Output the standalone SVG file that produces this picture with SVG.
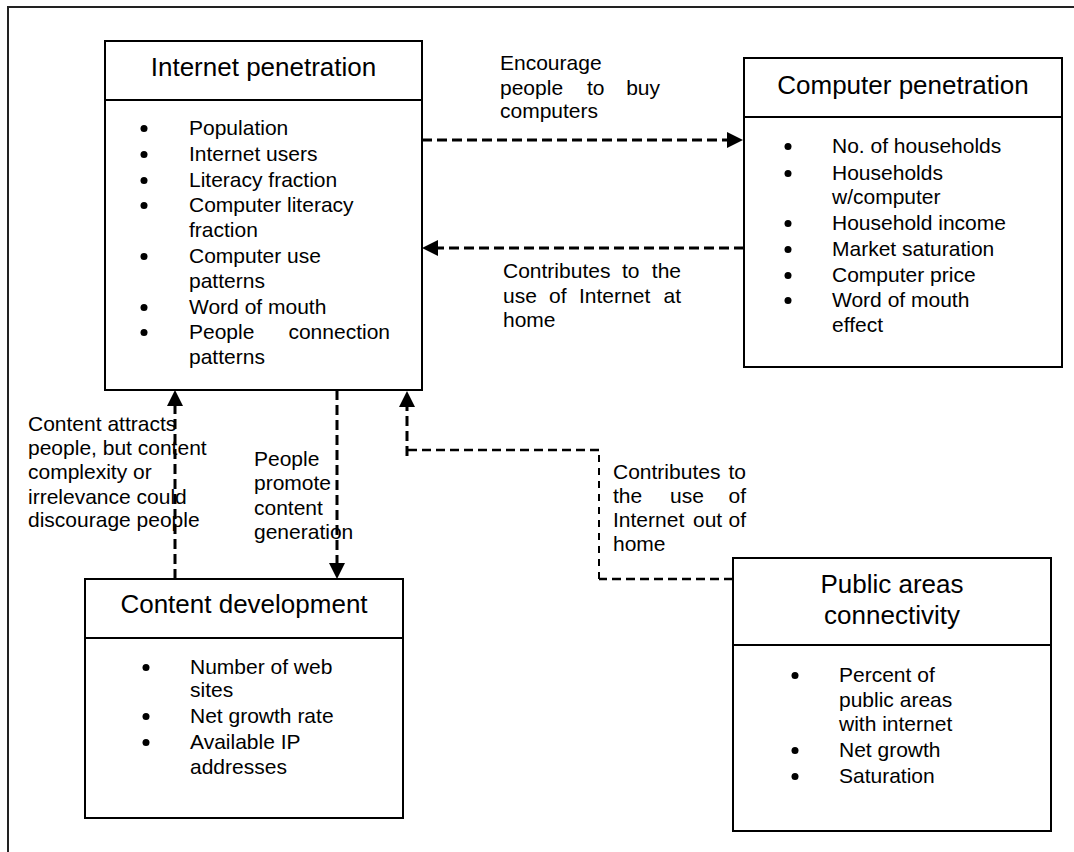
<svg xmlns="http://www.w3.org/2000/svg" width="1074" height="852" viewBox="0 0 1074 852">
<style>
text{font-family:"Liberation Sans",Arial,sans-serif;fill:#000}
.t{font-size:26px;text-anchor:middle}
.i{font-size:21px}
.l{font-size:21px}
.e{text-anchor:end}
.box{fill:#fff;stroke:#000;stroke-width:2}
.div{stroke:#000;stroke-width:2}
.b{fill:#000}
.c{fill:none;stroke:#000;stroke-width:3;stroke-dasharray:10 5}
.c2{fill:none;stroke:#000;stroke-width:2.5;stroke-dasharray:9 5}
.c3{fill:none;stroke:#000;stroke-width:2;stroke-dasharray:7 6}
</style>
<defs>
<marker id="ah" viewBox="0 0 16 16" refX="4" refY="8" markerWidth="16" markerHeight="16" markerUnits="userSpaceOnUse" orient="auto">
<path d="M0,0 L16,8 L0,16 z" fill="#000"/>
</marker>
</defs>
<rect width="1074" height="852" fill="#fff"/>
<path d="M8,852 V7 H1074" fill="none" stroke="#222" stroke-width="2"/>

<g id="internet-penetration">
<rect class="box" x="105" y="41" width="317" height="349"/>
<line class="div" x1="105" y1="100" x2="422" y2="100"/>
<text class="t" x="263.5" y="76">Internet penetration</text>
<circle class="b" cx="144" cy="128.5" r="3.5"/><text class="i" x="189" y="135">Population</text>
<circle class="b" cx="144" cy="154.5" r="3.5"/><text class="i" x="189" y="161">Internet users</text>
<circle class="b" cx="144" cy="180.5" r="3.5"/><text class="i" x="189" y="187">Literacy fraction</text>
<circle class="b" cx="144" cy="205.5" r="3.5"/><text class="i" x="189" y="212">Computer literacy</text>
<text class="i" x="189" y="237">fraction</text>
<circle class="b" cx="144" cy="256.5" r="3.5"/><text class="i" x="189" y="263">Computer use</text>
<text class="i" x="189" y="288">patterns</text>
<circle class="b" cx="144" cy="307.5" r="3.5"/><text class="i" x="189" y="314">Word of mouth</text>
<circle class="b" cx="144" cy="332.5" r="3.5"/><text class="i" x="189" y="339">People</text><text class="i e" x="390" y="339">connection</text>
<text class="i" x="189" y="364">patterns</text>
</g>

<g id="computer-penetration">
<rect class="box" x="744" y="58" width="318" height="309"/>
<line class="div" x1="744" y1="117" x2="1062" y2="117"/>
<text class="t" x="903" y="94">Computer penetration</text>
<circle class="b" cx="788" cy="146.5" r="3.5"/><text class="i" x="832" y="153">No. of households</text>
<circle class="b" cx="788" cy="173.5" r="3.5"/><text class="i" x="832" y="180">Households</text>
<text class="i" x="832" y="204">w/computer</text>
<circle class="b" cx="788" cy="223.5" r="3.5"/><text class="i" x="832" y="230">Household income</text>
<circle class="b" cx="788" cy="249.5" r="3.5"/><text class="i" x="832" y="256">Market saturation</text>
<circle class="b" cx="788" cy="275.5" r="3.5"/><text class="i" x="832" y="282">Computer price</text>
<circle class="b" cx="788" cy="300.5" r="3.5"/><text class="i" x="832" y="307">Word of mouth</text>
<text class="i" x="832" y="332">effect</text>
</g>

<g id="content-development">
<rect class="box" x="85" y="579" width="318" height="239"/>
<line class="div" x1="85" y1="638" x2="403" y2="638"/>
<text class="t" x="244" y="613">Content development</text>
<circle class="b" cx="146" cy="667.5" r="3.5"/><text class="i" x="190" y="674">Number of web</text>
<text class="i" x="190" y="697">sites</text>
<circle class="b" cx="146" cy="716.5" r="3.5"/><text class="i" x="190" y="723">Net growth rate</text>
<circle class="b" cx="146" cy="742.5" r="3.5"/><text class="i" x="190" y="749">Available IP</text>
<text class="i" x="190" y="774">addresses</text>
</g>

<g id="public-areas-connectivity">
<rect class="box" x="733" y="558" width="318" height="273"/>
<line class="div" x1="733" y1="645" x2="1051" y2="645"/>
<text class="t" x="892" y="593">Public areas</text>
<text class="t" x="892" y="624">connectivity</text>
<circle class="b" cx="795" cy="675.5" r="3.5"/><text class="i" x="839" y="682">Percent of</text>
<text class="i" x="839" y="707">public areas</text>
<text class="i" x="839" y="731">with internet</text>
<circle class="b" cx="795" cy="750.5" r="3.5"/><text class="i" x="839" y="757">Net growth</text>
<circle class="b" cx="795" cy="776.5" r="3.5"/><text class="i" x="839" y="783">Saturation</text>
</g>

<g id="connectors">
<g id="labels">
<text class="l" x="500" y="70">Encourage</text>
<text class="l" y="95"><tspan x="500">people</tspan><tspan x="587">to</tspan></text><text class="l e" x="660" y="95">buy</text>
<text class="l" x="500" y="118">computers</text>

<text class="l" y="278"><tspan x="503">Contributes</tspan><tspan x="622">to</tspan></text><text class="l e" x="681" y="278">the</text>
<text class="l" y="303"><tspan x="503">use</tspan><tspan x="549">of</tspan><tspan x="579">Internet</tspan></text><text class="l e" x="681" y="303">at</text>
<text class="l" x="503" y="327">home</text>

<text class="l" x="28" y="431">Content attracts</text>
<text class="l" x="28" y="455">people, but content</text>
<text class="l" x="28" y="479">complexity or</text>
<text class="l" x="28" y="504">irrelevance could</text>
<text class="l" x="28" y="527">discourage people</text>

<text class="l" x="254" y="466">People</text>
<text class="l" x="254" y="490">promote</text>
<text class="l" x="254" y="515">content</text>
<text class="l" x="254" y="539">generation</text>

<text class="l" x="613" y="479">Contributes</text><text class="l e" x="746" y="479">to</text>
<text class="l" y="503"><tspan x="613">the</tspan><tspan x="670">use</tspan></text><text class="l e" x="746" y="503">of</text>
<text class="l" y="527"><tspan x="613">Internet</tspan><tspan x="693">out</tspan></text><text class="l e" x="746" y="527">of</text>
<text class="l" x="613" y="551">home</text>
</g>
<path class="c" d="M422,140 H731" marker-end="url(#ah)"/>
<path class="c" d="M744,248 H434" marker-end="url(#ah)"/>
<path class="c" d="M175,579 V402" marker-end="url(#ah)"/>
<path class="c" d="M337,390 V567" marker-end="url(#ah)"/>
<path class="c2" d="M733,579 H599"/>
<path class="c3" d="M599,579 V450"/>
<path class="c2" d="M599,450 H407"/>
<path class="c" d="M407,456 V403" marker-end="url(#ah)"/>
</g>
</svg>
